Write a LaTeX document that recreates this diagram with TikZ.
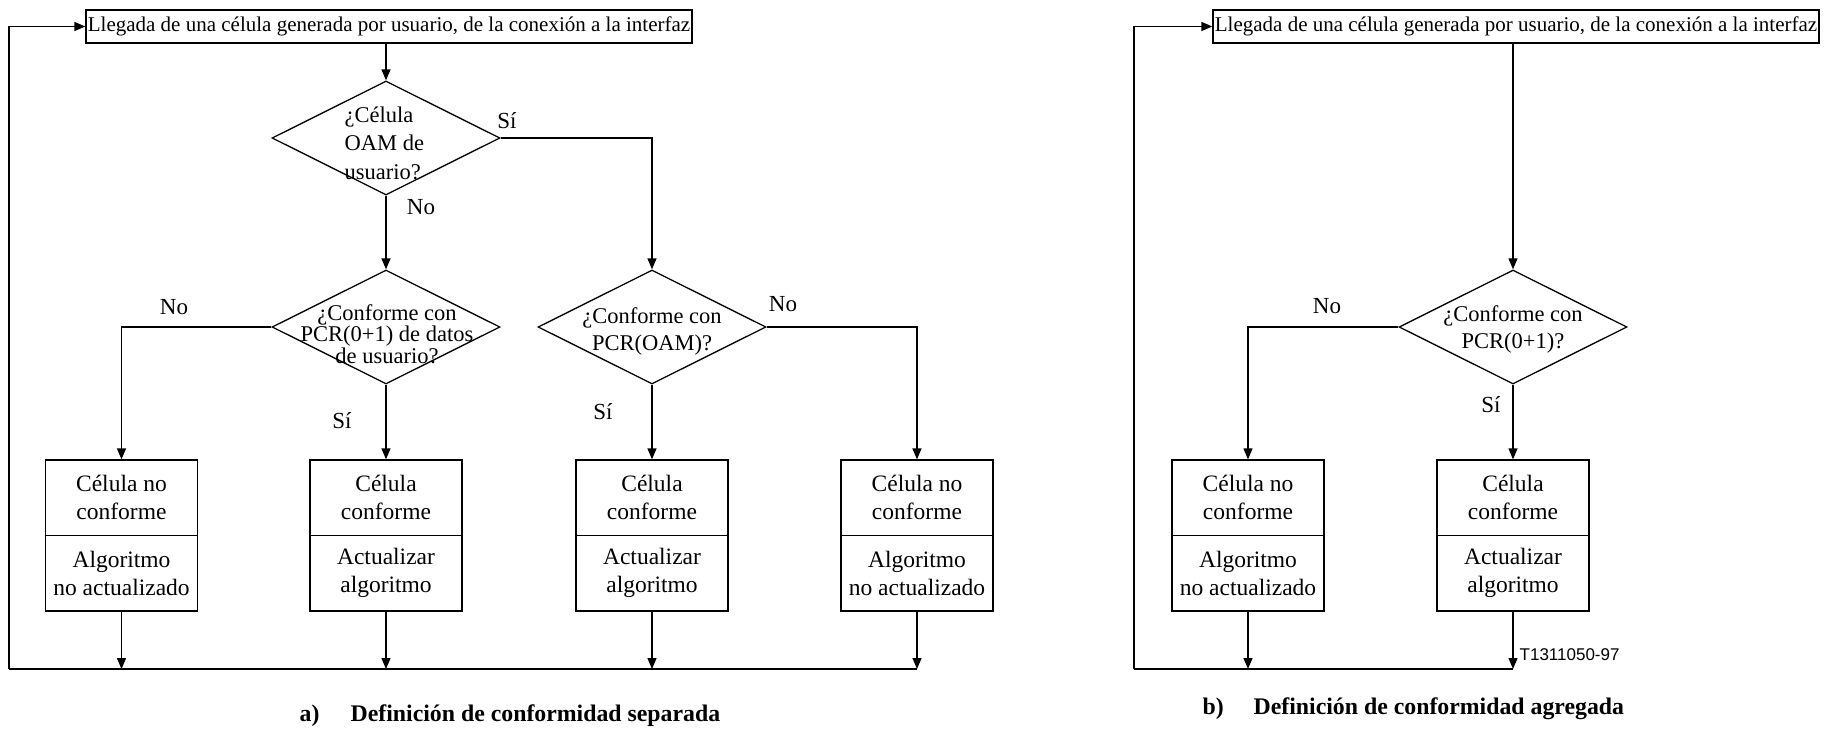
\documentclass[tikz,border=0pt]{standalone}
\usepackage{fontspec}
\setmainfont{Liberation Serif}
\setsansfont{Liberation Sans}
\usetikzlibrary{shapes.geometric,arrows.meta}
\begin{document}
\begin{tikzpicture}[x=1pt,y=-1pt,
  line width=1.3pt,
  >={Triangle[length=11pt,width=9pt]},
  topbox/.style={draw, rectangle, minimum width=606pt, minimum height=33pt, inner sep=0pt, font=\fontsize{21}{25}\selectfont},
  dec/.style={draw, diamond, aspect=2, minimum width=228pt, minimum height=114pt, inner sep=0pt},
  dtext/.style={font=\fontsize{22.5}{27}\selectfont, align=center, inner sep=0pt},
  half/.style={draw, rectangle, minimum width=152pt, minimum height=75.5pt, inner sep=0pt, align=center, font=\fontsize{23.5}{28}\selectfont},
  lab/.style={font=\fontsize{23}{27}\selectfont, inner sep=0pt},
  captext/.style={font=\fontsize{23.8}{28}\selectfont\bfseries, inner sep=0pt, anchor=west},
]
\useasboundingbox (0,0) rectangle (1824,731);

% ---------------- part a ----------------
\node[topbox] (topA) at (389,26.5) {Llegada de una célula generada por usuario, de la conexión a la interfaz};
\node[dec] (d1) at (386,138) {};
\node[dec] (d2) at (386,327) {};
\node[dec] (d3) at (652,327) {};
\node[dtext, align=left, anchor=west, font=\fontsize{22.5}{28.5}\selectfont] (d1t) at (344,143) {¿Célula\\OAM de\\usuario?};
\node[dtext, font=\fontsize{22.5}{21.5}\selectfont] (d2t) at (387,334) {¿Conforme con\\PCR(0+1) de datos\\de usuario?};
\node[dtext] (d3t) at (652,331) {¿Conforme con\\PCR(OAM)?};

\node[half] (a1t) at (121.5,497.75) {Célula no\\conforme};
\node[half] (a1b) at (121.5,573.25) {Algoritmo\\no actualizado};
\node[half] (a2t) at (386,497.75) {Célula\\conforme};
\node[half] (a2b) at (386,573.25) {Actualizar\\algoritmo};
\node[half] (a3t) at (652,497.75) {Célula\\conforme};
\node[half] (a3b) at (652,573.25) {Actualizar\\algoritmo};
\node[half] (a4t) at (917,497.75) {Célula no\\conforme};
\node[half] (a4b) at (917,573.25) {Algoritmo\\no actualizado};

\node[lab] (l1) at (507,121) {Sí};
\node[lab] (l2) at (421,207) {No};
\node[lab] (l3) at (174,307) {No};
\node[lab] (l4) at (342,421) {Sí};
\node[lab] (l5) at (603,412) {Sí};
\node[lab] (l6) at (783,304) {No};

\coordinate (blA) at (9,669);
\coordinate (brA) at (917,669);

\draw[->] (d1.north |- topA.south) -- (d1.north);
\draw[->] (d1.east) -| (d3.north);
\draw[->] (d1.south) -- (d2.north);
\draw[->] (d2.west) -| (a1t.north);
\draw[->] (d2.south) -- (a2t.north);
\draw[->] (d3.south) -- (a3t.north);
\draw[->] (d3.east) -| (a4t.north);
\draw[->] (a1b.south) -- (a1b.south |- blA);
\draw[->] (a2b.south) -- (a2b.south |- blA);
\draw[->] (a3b.south) -- (a3b.south |- blA);
\draw[->] (a4b.south) -- (a4b.south |- blA);
\draw (blA) -- (brA);
\draw[->] (blA) |- (topA.west);

\node[captext] (capAl) at (299,716) {a)};
\node[captext] (capAt) at (350,716) {Definición de conformidad separada};

% ---------------- part b ----------------
\node[topbox] (topB) at (1516,26.5) {Llegada de una célula generada por usuario, de la conexión a la interfaz};
\node[dec] (db) at (1513,327) {};
\node[dtext] (dbt) at (1513,329) {¿Conforme con\\PCR(0+1)?};

\node[half] (b1t) at (1248,497.75) {Célula no\\conforme};
\node[half] (b1b) at (1248,573.25) {Algoritmo\\no actualizado};
\node[half] (b2t) at (1513,497.75) {Célula\\conforme};
\node[half] (b2b) at (1513,573.25) {Actualizar\\algoritmo};

\node[lab] (l7) at (1327,306) {No};
\node[lab] (l8) at (1491,405) {Sí};

\coordinate (blB) at (1134,669);
\coordinate (brB) at (1513,669);

\draw[->] (db.north |- topB.south) -- (db.north);
\draw[->] (db.west) -| (b1t.north);
\draw[->] (db.south) -- (b2t.north);
\draw[->] (b1b.south) -- (b1b.south |- blB);
\draw[->] (b2b.south) -- (b2b.south |- blB);
\draw (blB) -- (brB);
\draw[->] (blB) |- (topB.west);

\node[font=\sffamily\fontsize{17}{20}\selectfont, inner sep=0pt, anchor=west] (tnum) at (1519,655) {T1311050-97};

\node[captext] (capBl) at (1202,709) {b)};
\node[captext] (capBt) at (1253,709) {Definición de conformidad agregada};
\end{tikzpicture}
\end{document}
